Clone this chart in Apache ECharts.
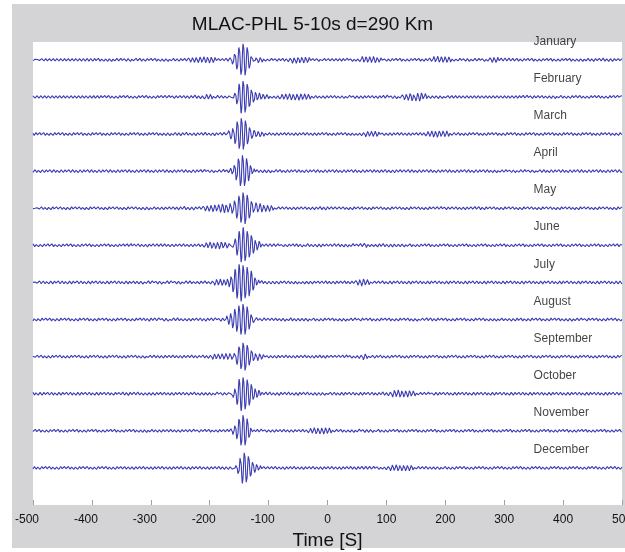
<!DOCTYPE html>
<html>
<head>
<meta charset="utf-8">
<script src="https://cdn.jsdelivr.net/npm/echarts@6/dist/echarts.min.js"></script>
<style>
  html, body { margin: 0; padding: 0; background: #fff; }
  #chart { width: 625px; height: 552px; }
</style>
</head>
<body>
<div id="chart"></div>
<script>
// months, top to bottom
var months = ['January', 'February', 'March', 'April', 'May', 'June',
              'July', 'August', 'September', 'October', 'November', 'December'];

// x axis ticks [s]
var timeTicks = [-500, -400, -300, -200, -100, 0, 100, 200, 300, 400, 500];

// main wave packet per month: centre [s], half amplitude [px], width [s]
var packetCenter = [-143, -143, -146, -144, -143, -143, -143, -143, -143, -143, -143, -141];
var packetAmp    = [18, 18, 18, 17, 18, 18, 18, 17, 16, 18, 17, 17];
var packetWidth  = [10, 10, 11, 10, 12, 12, 14, 12, 11, 11, 9, 9];

// background wiggle amplitude [px], read every 20 s from -500 to 500
var envJan = [1,1,1,1,1, 1.2,1.2,1.5,1.5,1.2, 1.2,1.2,1.5,2,2.5, 3,1.5,2,0,3, 1.5,1.5,3,3,1.5,
              1,1,1.5,3,3, 1.2,1.2,1.2,1.2,3, 3,1.5,1.5,1.5,2.5, 2.5,1.2,1.2,1.2,1.2, 1.2,1.2,1.5,2,2, 1.5];
var envFeb = [1,1,1,1,1, 1,1.2,1.2,1.2,1.2, 1.2,1.2,1.5,1.5,2.5, 2.5,1.5,2,0,3.5, 2,2.5,3,3,1.5,
              1.5,1.5,2,1.5,1.5, 2,2,3.5,3.5,1.5, 1.2,1,1,1,1, 1,1,1.5,1.5,1.5, 1.2,1.2,1.2,1.2,1.2, 1.5];
var envMar = [1.2,1.2,1.2,1.2,1.2, 1.2,1.2,1.2,1.2,1.2, 1.2,1.2,1.5,2,2, 2,2,1.5,0,3, 1.5,1.5,1.5,1.5,1.5,
              1.2,1.2,1.2,2.5,2.5, 1.5,1.5,1.5,1.5,3, 3,1.2,1.2,1.2,1.2, 1.2,1.2,1.2,1.2,1.2, 1.2,1.2,1.2,1.2,1.2, 1.2];
var envApr = [1.2,1.2,1.2,1.2,1.2, 1.2,1.2,1.2,1.2,1.2, 1.2,1.2,1.2,1.2,1.2, 1.5,1.5,1.5,0,2.5, 1.5,1.2,1.2,1.2,1.2,
              1.2,1.2,1.2,1.2,1.2, 2,2,1.2,1.2,1.2, 1.2,1.2,1.2,1.2,1.2, 1.5,1.5,1.5,1.2,1.2, 1.2,1.2,1.2,1.2,1.2, 1.2];
var envMay = [1.2,1.2,1.2,1.2,1.2, 1.2,1.2,1.2,1.2,1.2, 1.5,1.5,1.5,2.5,2, 3,3.5,3.5,0,3.5, 3,1.5,1.5,1.5,1.5,
              2.5,1.2,1.2,1.2,1.2, 1.2,1.2,1.2,1.2,1.2, 1.5,1.5,1.5,1.2,1.2, 1.2,1.2,1.2,1.2,1.2, 1.2,1.2,1.2,1.2,1.2, 1.2];
var envJun = [1.2,1.2,1.2,1.2,1.2, 1.2,1.2,1.2,1.2,2, 2,1.5,1.5,1.5,1.5, 3,3.5,3.5,0,3, 2,1.2,1.2,2,2,
              1.5,1.2,1.5,2.5,1.5, 2.5,1.5,1.2,1.2,1.2, 1.2,1.2,1.2,1.2,1.2, 1.2,1.2,1.2,1.2,1.2, 1.2,1.2,1.2,1.2,1.2, 1.2];
var envJul = [1.2,1.2,1.2,1.2,1.2, 1.2,1.2,1.2,1.2,1.8, 1.8,1.8,1.8,1.8,1.5, 2,3.5,4,0,3.5, 2,1.2,1.2,2,1.5,
              1.5,1.5,1.5,3.5,1.5, 1.2,1.2,1.2,1.2,1.2, 1.2,1.2,1.2,1.2,1.2, 1.2,1.2,1.2,1.2,1.2, 1.2,1.2,1.2,1.2,1.2, 1.2];
var envAug = [1.2,1.2,1.2,1.2,1.2, 1.2,1.2,1.2,1.2,1.2, 2,2,2,1.5,1.5, 2,2,3,0,3, 1.5,1.5,2,1.5,1.2,
              1.2,1.2,1.5,1.2,1.2, 1.2,1.2,1.2,1.5,1.2, 1.2,1.2,1.2,1.2,1.2, 1.5,1.2,1.2,1.2,1.2, 1.2,1.5,1.2,1.2,1.2, 1.2];
var envSep = [1.2,1.2,1.2,1.2,1.2, 1.2,1.2,1.2,1.2,1.2, 1.5,1.5,1.5,1.5,1.5, 2.5,2.5,3,0,3, 1.5,1.5,1.5,1.5,1.5,
              2,1.2,1.5,3,1.2, 1.2,1.2,1.2,1.2,1.2, 1.2,1.2,1.2,1.2,1.2, 1.2,1.2,1.2,1.2,1.2, 1.2,1.2,1.2,1.2,1.2, 1.2];
var envOct = [1.2,1.2,1.2,1.2,1.2, 1.2,1.2,1.2,2,2, 1.5,1.5,1.5,1.5,2, 1.5,2,2,0,3, 2,2,2,2,2,
              1.2,1.2,1.2,1.2,1.2, 2.5,3.5,3,1.5,1.2, 1.2,1.2,1.2,1.2,1.2, 1.2,1.2,1.2,1.2,1.2, 1.2,1.2,1.2,1.2,1.2, 1.2];
var envNov = [1.2,1.2,1.2,1.2,1.2, 1.2,1.2,1.2,1.2,1.2, 1.5,1.5,1.5,1.5,1.2, 1.2,1.5,1.5,0,2.5, 1.5,1.5,1.5,1.5,3,
              3,1.2,1.2,2,1.2, 1.2,1.2,1.2,1.2,1.2, 1.2,1.2,1.2,1.2,1.2, 1.2,1.2,1.2,1.2,1.2, 1.2,1.2,1.2,1.2,1.2, 1.2];
var envDec = [1.2,1.2,1.2,1.2,1.2, 1.2,1.2,1.2,1.5,1.5, 1.5,1.5,1.5,1.5,1.5, 1.5,1.5,2,0,2.5, 1.5,1.5,1.5,1.5,1.5,
              1.5,1.5,1.5,2,1.2, 2.5,3,2.5,1.5,1.5, 1.2,1.2,1.2,1.2,1.2, 1.2,1.2,1.2,1.2,1.2, 1.2,1.2,1.2,1.2,1.2, 1.2];
var envelopes = [envJan, envFeb, envMar, envApr, envMay, envJun, envJul, envAug, envSep, envOct, envNov, envDec];

var ENV_STEP = 20;      // s between envelope readings
var PX_PER_ROW = 37.1;  // vertical distance between traces in the picture
var NOISE_GAIN = 1.2;   // visual thickness of the background wiggle
var lineColor = '#3b3bb2';
var font = 'Liberation Sans, Arial, sans-serif';

// trace samples: envelope carried by a 5-10 s band-limited wiggle
function trace(m) {
  var env = envelopes[m];
  var off = months.length - m;
  var pts = [];
  for (var t = -500; t <= 500; t += 0.5) {
    var k = (t + 500) / ENV_STEP;
    var i = Math.min(Math.floor(k), env.length - 2);
    var f = k - i;
    var a = env[i] * (1 - f) + env[i + 1] * f;
    var noise = NOISE_GAIN * a * Math.sin(2 * Math.PI * t / 6.4 + m * 1.7);
    var d = t - packetCenter[m];
    var w = packetWidth[m];
    var pk = packetAmp[m] * Math.exp(-d * d / (2 * w * w)) * Math.cos(2 * Math.PI * d / 7);
    pts.push([t, off + (noise + pk) / PX_PER_ROW]);
  }
  return pts;
}

var series = months.map(function (name, m) {
  return {
    type: 'line',
    name: name,
    data: trace(m),
    showSymbol: false,
    smooth: false,
    lineStyle: { color: lineColor, width: 1.1 },
    silent: true,
    animation: false
  };
});

// month labels above each trace
series.push({
  type: 'scatter',
  symbolSize: 1,
  clip: false,
  itemStyle: { color: 'rgba(0,0,0,0)' },
  silent: true,
  animation: false,
  data: months.map(function (name, m) {
    return { value: [349, months.length - m + 0.49], name: name };
  }),
  label: {
    show: true,
    position: 'right',
    distance: 0,
    formatter: '{b}',
    color: '#111',
    fontSize: 12,
    fontFamily: font
  }
});

var chart = echarts.init(document.getElementById('chart'));
chart.setOption({
  backgroundColor: '#d4d4d6',
  animation: false,
  title: {
    text: 'MLAC-PHL 5-10s d=290 Km',
    left: 'center',
    top: 10,
    textStyle: { fontSize: 19, fontWeight: 'normal', color: '#111', fontFamily: font }
  },
  graphic: [
    { type: 'rect', shape: { x: 0, y: 0, width: 12, height: 552 }, style: { fill: '#fff' }, silent: true },
    { type: 'rect', shape: { x: 0, y: 0, width: 625, height: 4 }, style: { fill: '#fff' }, silent: true },
    { type: 'rect', shape: { x: 0, y: 548, width: 625, height: 4 }, style: { fill: '#fff' }, silent: true }
  ],
  grid: {
    left: 33, right: 3, top: 42, bottom: 47,
    outerBoundsMode: 'none',
    containLabel: false,
    show: true, backgroundColor: '#fff', borderWidth: 0
  },
  xAxis: {
    type: 'value',
    min: timeTicks[0],
    max: timeTicks[timeTicks.length - 1],
    interval: 100,
    name: 'Time [S]',
    nameLocation: 'middle',
    nameGap: 23,
    nameTextStyle: { fontSize: 19, color: '#111', fontFamily: font },
    axisLine: { show: false },
    axisTick: { show: true, inside: true, length: 5, lineStyle: { color: '#a0a0a0' } },
    axisLabel: {
      color: '#111', fontSize: 12, margin: 9, fontFamily: font,
      // negative labels: digits centred on the tick, minus sign hanging left
      formatter: function (v) { return v < 0 ? '{n|' + v + '}{p|}' : '{n|' + v + '}'; },
      rich: {
        n: { fontSize: 12, color: '#111', fontFamily: font },
        p: { width: 12 }
      }
    },
    splitLine: { show: false }
  },
  yAxis: {
    type: 'value',
    min: 0,
    max: 12.48,
    show: false
  },
  series: series
});
</script>
</body>
</html>
